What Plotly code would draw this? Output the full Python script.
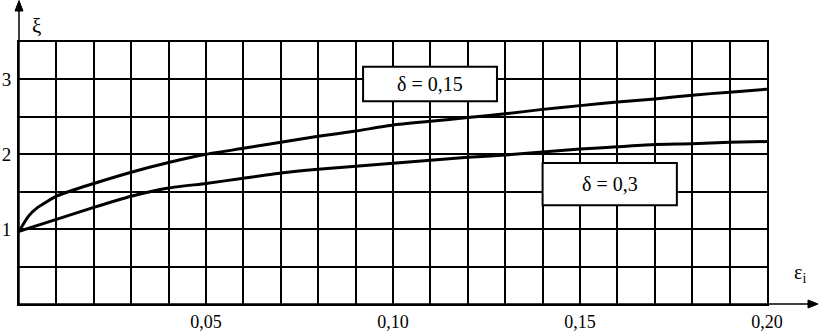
import plotly.graph_objects as go

# ---- data ----
x_d015 = [0, 0.0025, 0.005, 0.01, 0.015, 0.02, 0.03, 0.04, 0.05, 0.06, 0.07, 0.08, 0.09, 0.10,
          0.11, 0.12, 0.13, 0.14, 0.15, 0.16, 0.17, 0.18, 0.19, 0.20]
y_d015 = [0.97, 1.17, 1.29, 1.44, 1.53, 1.61, 1.76, 1.89, 2.00, 2.08, 2.16, 2.24, 2.31, 2.39,
          2.44, 2.49, 2.54, 2.60, 2.65, 2.70, 2.74, 2.79, 2.83, 2.87]
x_d03 = [0, 0.01, 0.02, 0.03, 0.04, 0.05, 0.06, 0.07, 0.08, 0.09, 0.10, 0.11, 0.12,
         0.13, 0.14, 0.15, 0.16, 0.17, 0.18, 0.19, 0.20]
y_d03 = [0.97, 1.13, 1.29, 1.44, 1.55, 1.61, 1.68, 1.75, 1.80, 1.84, 1.88, 1.92, 1.96,
         1.99, 2.03, 2.07, 2.10, 2.13, 2.14, 2.16, 2.17]
labels = ["δ = 0,15", "δ = 0,3"]
x_tickvals = [i / 100 for i in range(0, 21)]
x_ticktext = ["0,05" if i == 5 else "0,10" if i == 10 else "0,15" if i == 15 else "0,20" if i == 20 else ""
              for i in range(0, 21)]
y_tickvals = [i / 2 for i in range(0, 8)]
y_ticktext = ["", "", "1", "", "2", "", "3", ""]

FONT = "Liberation Serif"

fig = go.Figure()
for xs, ys in [(x_d015, y_d015), (x_d03, y_d03)]:
    fig.add_trace(go.Scatter(x=xs, y=ys, mode="lines",
                             line=dict(color="black", width=3, shape="spline", smoothing=0.5),
                             showlegend=False, hoverinfo="skip"))

# label boxes
boxes = [(0.092, 0.1278, 2.71, 3.17), (0.140, 0.1759, 1.32, 1.884)]
for (x0, x1, y0, y1), txt in zip(boxes, labels):
    fig.add_shape(type="rect", x0=x0, x1=x1, y0=y0, y1=y1, xref="x", yref="y",
                  fillcolor="white", line=dict(color="black", width=2), layer="above")
    fig.add_annotation(x=(x0 + x1) / 2, y=(y0 + y1) / 2, xref="x", yref="y", text=txt,
                       showarrow=False, font=dict(family=FONT, size=20, color="black"))

L, R, T, B = 19, 52, 42, 29
W, H = 819, 333
pw, ph = W - L - R, H - T - B

def px(xp):
    return (xp - L) / pw

def py(yp):
    return (H - B - yp) / ph

# axis extension lines with arrowheads (paper coordinates)
fig.add_shape(type="line", xref="paper", yref="paper", x0=px(L), y0=py(H - B), x1=px(812), y1=py(H - B),
              line=dict(color="black", width=1.5))
fig.add_shape(type="path", xref="paper", yref="paper", fillcolor="black", line=dict(color="black", width=1),
              path=f"M {px(818)} {py(304)} L {px(808)} {py(300)} L {px(808)} {py(308)} Z")
fig.add_shape(type="line", xref="paper", yref="paper", x0=px(L), y0=py(H - B), x1=px(L), y1=py(6),
              line=dict(color="black", width=1.5))
fig.add_shape(type="path", xref="paper", yref="paper", fillcolor="black", line=dict(color="black", width=1),
              path=f"M {px(19)} {py(0.5)} L {px(15)} {py(11)} L {px(23)} {py(11)} Z")

# axis titles
fig.add_annotation(x=px(30), y=py(12), xref="paper", yref="paper",
                   text="ξ", showarrow=False, font=dict(family=FONT, size=21, color="black"))
fig.add_annotation(x=px(808), y=py(288), xref="paper", yref="paper",
                   text="ε<sub>i</sub>", showarrow=False,
                   font=dict(family=FONT, size=20, color="black"))

fig.update_xaxes(range=[0, 0.20], tickvals=x_tickvals, ticktext=x_ticktext,
                 showgrid=True, gridcolor="black", gridwidth=2, automargin=False,
                 showline=True, linecolor="black", linewidth=2, mirror=True,
                 zeroline=False, ticks="", ticklabelstandoff=0,
                 tickfont=dict(family=FONT, size=18, color="black"))
fig.update_yaxes(range=[0, 3.5], tickvals=y_tickvals, ticktext=y_ticktext,
                 showgrid=True, gridcolor="black", gridwidth=2, automargin=False,
                 showline=True, linecolor="black", linewidth=2, mirror=True,
                 zeroline=False, ticks="", ticklabelstandoff=2,
                 tickfont=dict(family=FONT, size=19, color="black"))

fig.update_layout(width=W, height=H, margin=dict(l=L, r=R, t=T, b=B),
                  paper_bgcolor="white", plot_bgcolor="white")

fig.write_html("out.html", config={"displayModeBar": False},
               post_script="document.body.style.margin='0';")
